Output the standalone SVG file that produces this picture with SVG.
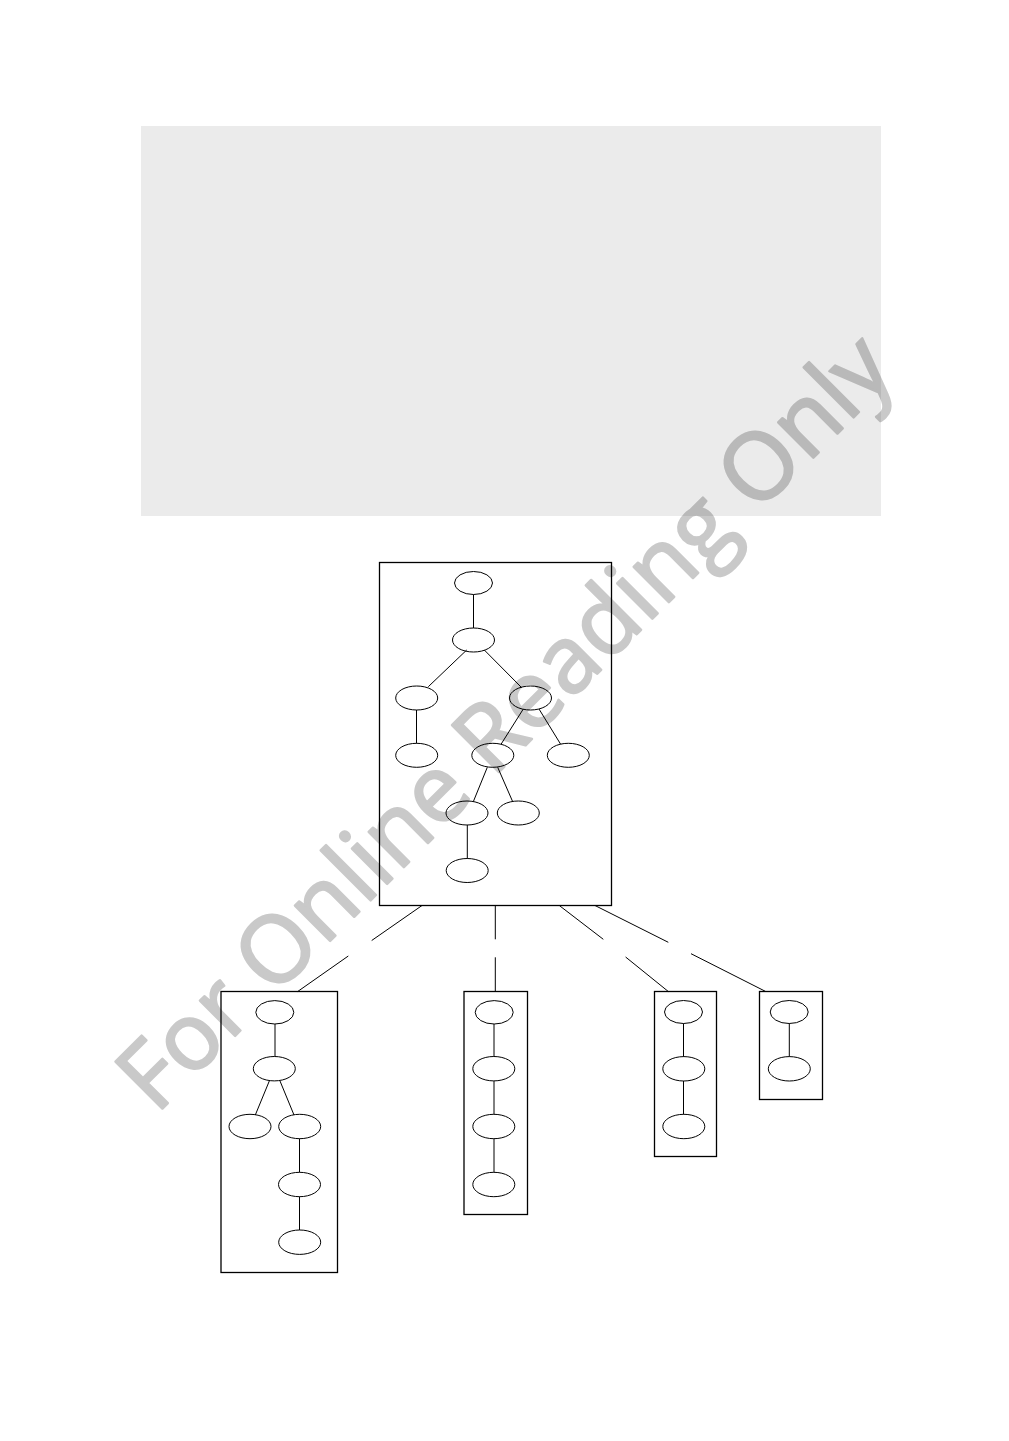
<svg xmlns="http://www.w3.org/2000/svg" width="1009" height="1441" viewBox="0 0 1009 1441">
<style>
.box{fill:none;stroke:#000;stroke-width:1.3}
.n{fill:none;stroke:#000;stroke-width:1}
.e{stroke:#000;stroke-width:1;fill:none}
.wm{font-family:"Open Sans","Noto Sans",sans-serif;font-size:93px;font-weight:400;fill:#c9c9c9;stroke:#c9c9c9;stroke-width:2.4;stroke-linejoin:round;mix-blend-mode:multiply}
</style>
<rect x="141" y="126" width="740" height="390" fill="#ebebeb"/>
<g id="tree-main">
<rect class="box" x="379.5" y="562.5" width="232" height="343"/>
<ellipse class="n" cx="473.5" cy="583" rx="19" ry="11.5"/>
<ellipse class="n" cx="473.5" cy="640" rx="21" ry="12"/>
<ellipse class="n" cx="416.7" cy="698" rx="21" ry="12"/>
<ellipse class="n" cx="530.5" cy="698" rx="21" ry="12"/>
<ellipse class="n" cx="416.7" cy="755.3" rx="21" ry="12"/>
<ellipse class="n" cx="492.8" cy="755.3" rx="21" ry="12"/>
<ellipse class="n" cx="568.3" cy="755.3" rx="21" ry="12"/>
<ellipse class="n" cx="467" cy="813" rx="21" ry="12"/>
<ellipse class="n" cx="518.3" cy="813" rx="21" ry="12"/>
<ellipse class="n" cx="467.2" cy="870.5" rx="21" ry="12"/>
<path class="e" d="M473.5 594.5V628 M466.7 650L428.3 686.7 M484.3 650L521.7 687.7 M416.5 710V743.3 M523.3 709L501 744.3 M539 709L560.7 744.3 M487.3 767.3L473.3 801.7 M497.7 767.3L512.7 801.7 M467.3 825V858.5"/>
</g>
<g id="tree-1">
<rect class="box" x="221" y="991.5" width="116.5" height="281"/>
<ellipse class="n" cx="274.8" cy="1012.3" rx="19" ry="11.7"/>
<ellipse class="n" cx="274.3" cy="1068.7" rx="21" ry="12.2"/>
<ellipse class="n" cx="250" cy="1126.5" rx="21" ry="12.2"/>
<ellipse class="n" cx="299.7" cy="1126.5" rx="21" ry="12.2"/>
<ellipse class="n" cx="299.5" cy="1184.5" rx="21" ry="12.2"/>
<ellipse class="n" cx="299.7" cy="1242.2" rx="21" ry="12.2"/>
<path class="e" d="M275 1024V1056.5 M269.3 1081L255.3 1115 M280 1081L294 1115 M299.5 1138.7V1172.3 M299.5 1196.7V1230"/>
</g>
<g id="tree-2">
<rect class="box" x="464" y="991.5" width="63.5" height="223"/>
<ellipse class="n" cx="494.2" cy="1012.3" rx="19" ry="11.7"/>
<ellipse class="n" cx="493.8" cy="1068.7" rx="21" ry="12.2"/>
<ellipse class="n" cx="493.8" cy="1126.5" rx="21" ry="12.2"/>
<ellipse class="n" cx="493.8" cy="1184.5" rx="21" ry="12.2"/>
<path class="e" d="M494 1024V1056.5 M494 1081V1114.3 M494 1138.7V1172.3"/>
</g>
<g id="tree-3">
<rect class="box" x="654.5" y="991.5" width="62" height="165"/>
<ellipse class="n" cx="683.5" cy="1012" rx="19" ry="11.5"/>
<ellipse class="n" cx="683.8" cy="1068.8" rx="21" ry="12.2"/>
<ellipse class="n" cx="683.8" cy="1126.5" rx="21" ry="12.2"/>
<path class="e" d="M683.5 1023.5V1056.7 M683.5 1081V1114.3"/>
</g>
<g id="tree-4">
<rect class="box" x="759.5" y="991.5" width="63" height="108"/>
<ellipse class="n" cx="789.2" cy="1012" rx="19" ry="11.5"/>
<ellipse class="n" cx="789.3" cy="1068.8" rx="21" ry="12.2"/>
<path class="e" d="M789.3 1023.5V1056.7"/>
</g>
<g id="connectors">
<path class="e" d="M422 905.5L371.7 940.5 M348.3 956L297.7 991.5"/>
<path class="e" d="M495.3 905.5V939.3 M495.3 957.3V991.5"/>
<path class="e" d="M559.3 905.5L603.3 939.3 M625.6 957L668.3 991.5"/>
<path class="e" d="M595 905.5L668.3 942.3 M691 953.7L765.7 991.5"/>
</g>
<text class="wm" transform="translate(156,1115) rotate(-45)">For Online Reading Only</text>
</svg>
